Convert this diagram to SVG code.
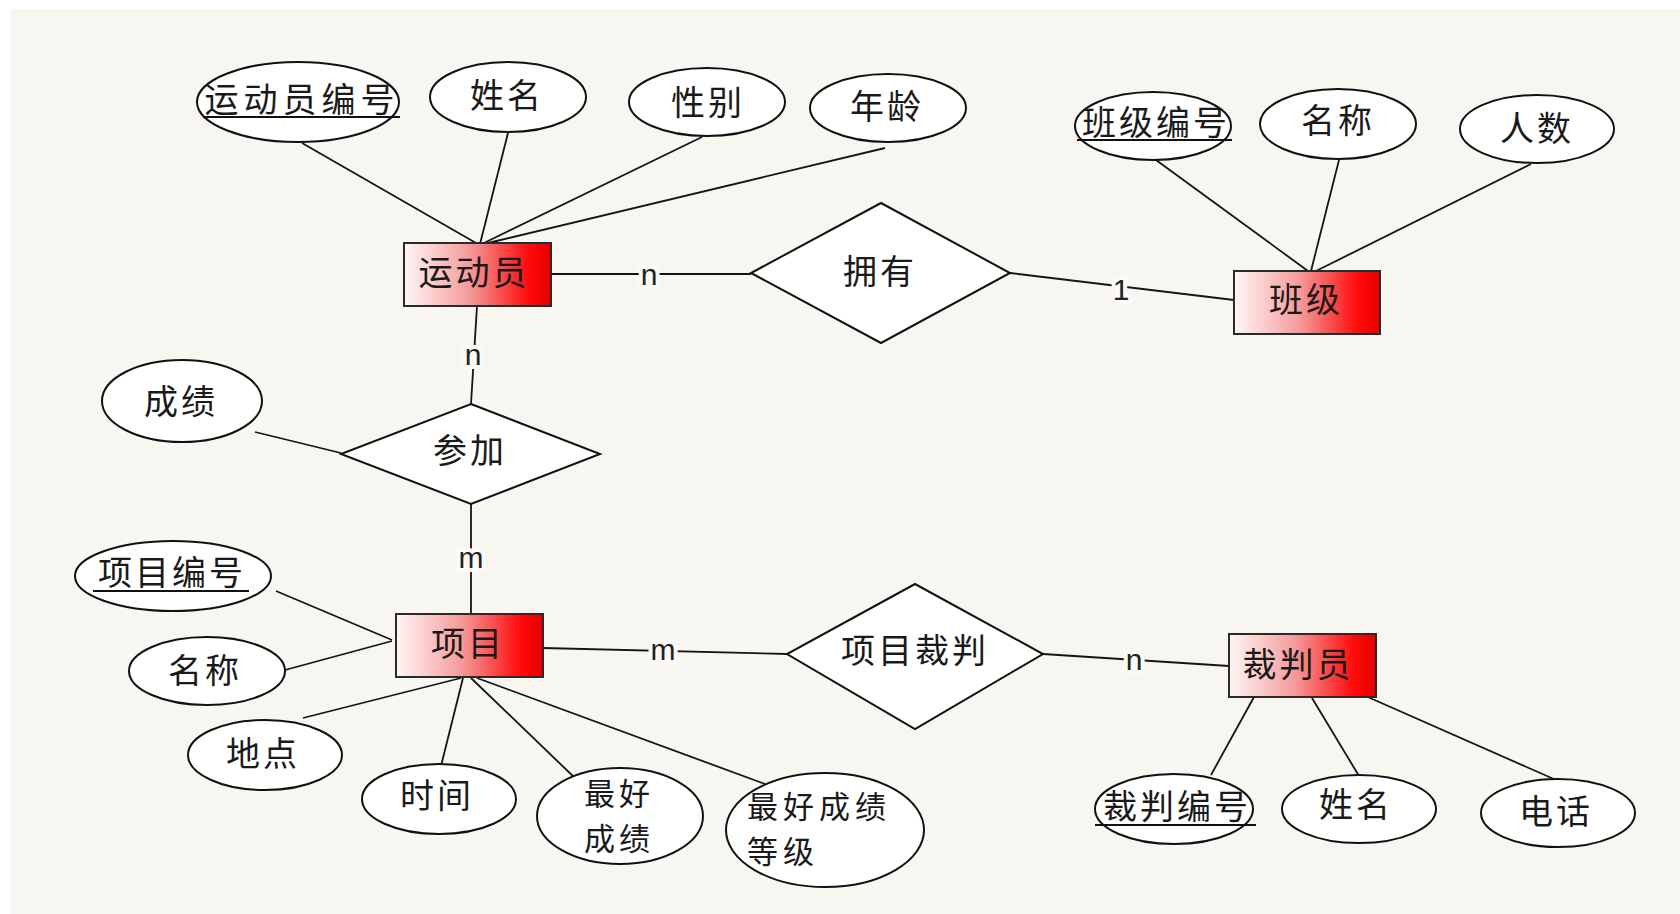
<svg xmlns="http://www.w3.org/2000/svg" width="1680" height="914" viewBox="0 0 1680 914">
<defs>
<linearGradient id="red" x1="0" y1="0" x2="1" y2="0">
<stop offset="0" stop-color="#fff6f6"/>
<stop offset="0.45" stop-color="#f59a9a"/>
<stop offset="0.85" stop-color="#ff0a0a"/>
<stop offset="1" stop-color="#e80000"/>
</linearGradient>
<style>
.ent{fill:url(#red);stroke:#2a2a2a;stroke-width:2}
.att{fill:#fff;stroke:#111;stroke-width:2}
.rel{fill:#fff;stroke:#111;stroke-width:2}
.ln{stroke:#151515;stroke-width:1.8;fill:none}
.ul{stroke:#111;stroke-width:2}
.t{font-family:"Noto Sans CJK SC","Noto Sans",sans-serif;font-size:34px;fill:#1a1a1a;text-anchor:middle;letter-spacing:3px}
.t2{font-family:"Noto Sans CJK SC","Noto Sans",sans-serif;font-size:31px;fill:#1a1a1a;text-anchor:middle;letter-spacing:4px}
.ts{font-family:"Noto Sans CJK SC","Noto Sans",sans-serif;font-size:31px;fill:#1a1a1a;letter-spacing:5px}
.lb{font-family:"Liberation Sans",Arial,sans-serif;font-size:30px;fill:#222;text-anchor:middle;stroke:#fbfaf6;stroke-width:8px;paint-order:stroke}
</style>
</defs>
<rect x="0" y="0" width="1680" height="914" fill="#ffffff"/>
<rect x="10" y="9" width="1670" height="905" fill="#f8f6f0"/>
<g id="connectors">
<line class="ln" x1="302" y1="143" x2="476" y2="243"/>
<line class="ln" x1="508" y1="133" x2="480" y2="244"/>
<line class="ln" x1="702" y1="137" x2="484" y2="243"/>
<line class="ln" x1="885" y1="148" x2="488" y2="243"/>
<line class="ln" x1="1156" y1="160" x2="1308" y2="271"/>
<line class="ln" x1="1339" y1="160" x2="1311" y2="271"/>
<line class="ln" x1="1531" y1="164" x2="1316" y2="271"/>
<line class="ln" x1="551" y1="274" x2="751" y2="274"/>
<line class="ln" x1="1010" y1="273" x2="1234" y2="300"/>
<line class="ln" x1="477" y1="306" x2="471" y2="404"/>
<line class="ln" x1="255" y1="432" x2="341" y2="453"/>
<line class="ln" x1="471" y1="504" x2="471" y2="614"/>
<line class="ln" x1="276" y1="591" x2="392" y2="640"/>
<line class="ln" x1="285" y1="670" x2="392" y2="641"/>
<line class="ln" x1="303" y1="718" x2="461" y2="678"/>
<line class="ln" x1="441" y1="766" x2="463" y2="678"/>
<line class="ln" x1="576" y1="779" x2="471" y2="678"/>
<line class="ln" x1="765" y1="784" x2="477" y2="678"/>
<line class="ln" x1="543" y1="648" x2="787" y2="654"/>
<line class="ln" x1="1043" y1="654" x2="1229" y2="666"/>
<line class="ln" x1="1211" y1="775" x2="1254" y2="697"/>
<line class="ln" x1="1359" y1="776" x2="1312" y2="698"/>
<line class="ln" x1="1556" y1="780" x2="1361" y2="694"/>
<text class="lb" x="649" y="285">n</text>
<text class="lb" x="1121" y="300">1</text>
<text class="lb" x="473" y="365">n</text>
<text class="lb" x="471" y="568">m</text>
<text class="lb" x="663" y="660">m</text>
<text class="lb" x="1134" y="670">n</text>
</g>
<g id="athlete">
<rect class="ent" x="404" y="243" width="147" height="63"/>
<text class="t" x="474" y="285">运动员</text>
</g>
<g id="class">
<rect class="ent" x="1234" y="271" width="146" height="63"/>
<text class="t" x="1306" y="312">班级</text>
</g>
<g id="event">
<rect class="ent" x="396" y="614" width="147" height="63"/>
<text class="t" x="468" y="656">项目</text>
</g>
<g id="referee">
<rect class="ent" x="1229" y="634" width="147" height="63"/>
<text class="t" x="1298" y="677">裁判员</text>
</g>
<g id="rel-own">
<polygon class="rel" points="881,203 1010,273 881,343 751,273"/>
<text class="t" x="880" y="284">拥有</text>
</g>
<g id="rel-join">
<polygon class="rel" points="471,404 600,454 471,504 341,454"/>
<text class="t" x="470" y="463">参加</text>
</g>
<g id="rel-judge">
<polygon class="rel" points="915,584 1043,654 915,729 787,654"/>
<text class="t" x="915" y="663">项目裁判</text>
</g>
<g id="a-athlete-id">
<ellipse class="att" cx="298" cy="102" rx="101" ry="40"/>
<text class="t" x="302" y="112" style="letter-spacing:5px">运动员编号</text>
<line class="ul" x1="203" y1="117" x2="400" y2="117"/>
</g>
<g id="a-athlete-name">
<ellipse class="att" cx="508" cy="97" rx="78" ry="35"/>
<text class="t" x="507" y="108">姓名</text>
</g>
<g id="a-athlete-sex">
<ellipse class="att" cx="707" cy="102" rx="78" ry="34"/>
<text class="t" x="708" y="115">性别</text>
</g>
<g id="a-athlete-age">
<ellipse class="att" cx="888" cy="108" rx="78" ry="34"/>
<text class="t" x="887" y="119">年龄</text>
</g>
<g id="a-class-id">
<ellipse class="att" cx="1153" cy="126" rx="78" ry="34"/>
<text class="t" x="1156" y="135">班级编号</text>
<line class="ul" x1="1077" y1="140" x2="1232" y2="140"/>
</g>
<g id="a-class-name">
<ellipse class="att" cx="1338" cy="124" rx="78" ry="35"/>
<text class="t" x="1338" y="133">名称</text>
</g>
<g id="a-class-count">
<ellipse class="att" cx="1537" cy="129" rx="77" ry="34"/>
<text class="t" x="1537" y="141">人数</text>
</g>
<g id="a-score">
<ellipse class="att" cx="182" cy="401" rx="80" ry="41"/>
<text class="t" x="181" y="414">成绩</text>
</g>
<g id="a-event-id">
<ellipse class="att" cx="173" cy="576" rx="98" ry="35"/>
<text class="t" x="172" y="585">项目编号</text>
<line class="ul" x1="93" y1="591" x2="249" y2="591"/>
</g>
<g id="a-event-name">
<ellipse class="att" cx="207" cy="671" rx="78" ry="34"/>
<text class="t" x="205" y="683">名称</text>
</g>
<g id="a-event-place">
<ellipse class="att" cx="265" cy="755" rx="77" ry="35"/>
<text class="t" x="263" y="766">地点</text>
</g>
<g id="a-event-time">
<ellipse class="att" cx="439" cy="799" rx="77" ry="35"/>
<text class="t" x="437" y="808">时间</text>
</g>
<g id="a-event-best">
<ellipse class="att" cx="620" cy="816" rx="83" ry="48"/>
<text class="t2"><tspan x="619" y="805">最好</tspan><tspan x="619" y="850">成绩</tspan></text>
</g>
<g id="a-event-grade">
<ellipse class="att" cx="825" cy="830" rx="99" ry="57"/>
<text class="ts"><tspan x="747" y="818">最好成绩</tspan><tspan x="747" y="863">等级</tspan></text>
</g>
<g id="a-ref-id">
<ellipse class="att" cx="1174" cy="809" rx="79" ry="35"/>
<text class="t" x="1177" y="819">裁判编号</text>
<line class="ul" x1="1095" y1="825" x2="1256" y2="825"/>
</g>
<g id="a-ref-name">
<ellipse class="att" cx="1359" cy="809" rx="77" ry="34"/>
<text class="t" x="1356" y="817">姓名</text>
</g>
<g id="a-ref-phone">
<ellipse class="att" cx="1558" cy="813" rx="77" ry="34"/>
<text class="t" x="1556" y="824">电话</text>
</g>
</svg>
